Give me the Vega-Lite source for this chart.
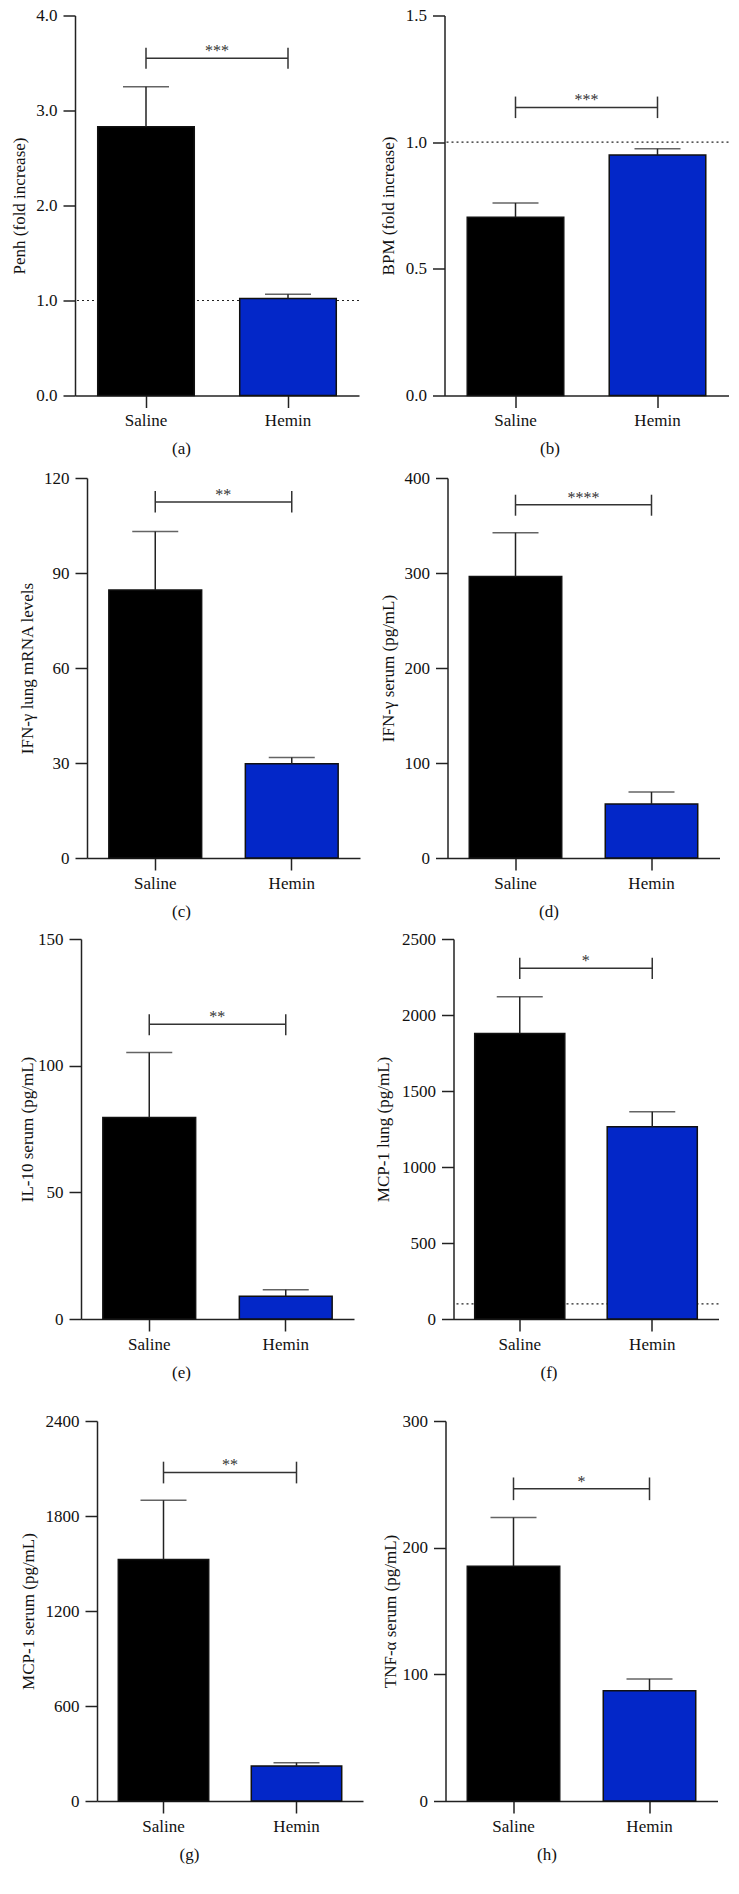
{
"$schema": "https://vega.github.io/schema/vega-lite/v6.json",
"background": "white",
"padding": {"left": 10, "top": 6.5, "right": 5, "bottom": 5},
"config": {
 "view": {"stroke": null},
 "font": "Liberation Serif",
 "axis": {"grid": false, "domainColor": "#222", "tickColor": "#222", "domainWidth": 1.5, "tickWidth": 1.5, "tickSize": 12, "labelFont": "Liberation Serif", "labelFontSize": 17, "labelColor": "#111", "titleFont": "Liberation Serif", "titleFontSize": 17, "titleFontWeight": "normal", "titleColor": "#111", "labelPadding": 6},
 "axisX": {"labelAngle": 0, "labelPadding": 5, "titlePadding": 12},
 "axisY": {"titlePadding": 4}
},
"spacing": 31.5,
"vconcat": [
 {"spacing": 10.5, "vconcat": [
  {"spacing": 12.5, "vconcat": [
   {"spacing": 18.5, "hconcat": [
    {"width": 284, "height": 380, "layer": [
     {"data": {"values": [{}]}, "mark": {"type": "rule", "strokeDash": [2, 3], "color": "#222", "strokeWidth": 1.2}, "encoding": {"y": {"datum": 1, "type": "quantitative", "scale": {"domain": [0, 4], "nice": false}}}},
     {"data": {"values": [{"group": "Saline", "mean": 2.83, "err": 3.25}, {"group": "Hemin", "mean": 1.02, "err": 1.066}]}, "layer": [
      {"mark": {"type": "bar", "stroke": "#111", "strokeWidth": 1.5}, "encoding": {
       "x": {"field": "group", "type": "nominal", "sort": ["Saline", "Hemin"], "scale": {"paddingInner": 0.32, "paddingOuter": 0.16}, "axis": {"title": "(a)", "titleX": 106}},
       "y": {"field": "mean", "type": "quantitative", "scale": {"domain": [0, 4], "nice": false}, "axis": {"title": "Penh (fold increase)", "values": [0, 1, 2, 3, 4], "format": ".1f", "minExtent": 43, "maxExtent": 43}},
       "color": {"field": "group", "type": "nominal", "scale": {"domain": ["Saline", "Hemin"], "range": ["#000000", "#0327c8"]}, "legend": null}}},
      {"mark": {"type": "rule", "color": "#222", "strokeWidth": 1.5}, "encoding": {"x": {"field": "group", "type": "nominal", "sort": ["Saline", "Hemin"]}, "y": {"field": "mean", "type": "quantitative", "scale": {"domain": [0, 4], "nice": false}}, "y2": {"field": "err"}}},
      {"mark": {"type": "tick", "size": 46, "thickness": 1.5, "color": "#222"}, "encoding": {"x": {"field": "group", "type": "nominal", "sort": ["Saline", "Hemin"]}, "y": {"field": "err", "type": "quantitative", "scale": {"domain": [0, 4], "nice": false}}}}
     ]},
     {"data": {"values": [{"group": "Saline", "y": 3.55, "lo": 3.44, "hi": 3.66, "stars": "***"}, {"group": "Hemin", "y": 3.55, "lo": 3.44, "hi": 3.66, "stars": "***"}]}, "layer": [
      {"mark": {"type": "line", "color": "#333", "strokeWidth": 1.5}, "encoding": {"x": {"field": "group", "type": "nominal", "sort": ["Saline", "Hemin"]}, "y": {"field": "y", "type": "quantitative", "scale": {"domain": [0, 4], "nice": false}}}},
      {"mark": {"type": "rule", "color": "#333", "strokeWidth": 1.5}, "encoding": {"x": {"field": "group", "type": "nominal", "sort": ["Saline", "Hemin"]}, "y": {"field": "lo", "type": "quantitative", "scale": {"domain": [0, 4], "nice": false}}, "y2": {"field": "hi"}}},
      {"transform": [{"filter": "datum.group === 'Saline'"}], "mark": {"type": "text", "dx": 71, "dy": -2, "baseline": "alphabetic", "fontSize": 16, "color": "#333"}, "encoding": {"x": {"field": "group", "type": "nominal", "sort": ["Saline", "Hemin"]}, "y": {"field": "y", "type": "quantitative", "scale": {"domain": [0, 4], "nice": false}}, "text": {"field": "stars"}}}
     ]}
    ]},
    {"width": 284, "height": 380, "layer": [
     {"data": {"values": [{}]}, "mark": {"type": "rule", "strokeDash": [2, 3], "color": "#222", "strokeWidth": 1.2}, "encoding": {"y": {"datum": 1, "type": "quantitative", "scale": {"domain": [0, 1.5], "nice": false}}}},
     {"data": {"values": [{"group": "Saline", "mean": 0.704, "err": 0.76}, {"group": "Hemin", "mean": 0.949, "err": 0.974}]}, "layer": [
      {"mark": {"type": "bar", "stroke": "#111", "strokeWidth": 1.5}, "encoding": {
       "x": {"field": "group", "type": "nominal", "sort": ["Saline", "Hemin"], "scale": {"paddingInner": 0.32, "paddingOuter": 0.16}, "axis": {"title": "(b)", "titleX": 105}},
       "y": {"field": "mean", "type": "quantitative", "scale": {"domain": [0, 1.5], "nice": false}, "axis": {"title": "BPM (fold increase)", "values": [0, 0.5, 1, 1.5], "format": ".1f", "minExtent": 43.5, "maxExtent": 43.5}},
       "color": {"field": "group", "type": "nominal", "scale": {"domain": ["Saline", "Hemin"], "range": ["#000000", "#0327c8"]}, "legend": null}}},
      {"mark": {"type": "rule", "color": "#222", "strokeWidth": 1.5}, "encoding": {"x": {"field": "group", "type": "nominal", "sort": ["Saline", "Hemin"]}, "y": {"field": "mean", "type": "quantitative", "scale": {"domain": [0, 1.5], "nice": false}}, "y2": {"field": "err"}}},
      {"mark": {"type": "tick", "size": 46, "thickness": 1.5, "color": "#222"}, "encoding": {"x": {"field": "group", "type": "nominal", "sort": ["Saline", "Hemin"]}, "y": {"field": "err", "type": "quantitative", "scale": {"domain": [0, 1.5], "nice": false}}}}
     ]},
     {"data": {"values": [{"group": "Saline", "y": 1.137, "lo": 1.095, "hi": 1.18, "stars": "***"}, {"group": "Hemin", "y": 1.137, "lo": 1.095, "hi": 1.18, "stars": "***"}]}, "layer": [
      {"mark": {"type": "line", "color": "#333", "strokeWidth": 1.5}, "encoding": {"x": {"field": "group", "type": "nominal", "sort": ["Saline", "Hemin"]}, "y": {"field": "y", "type": "quantitative", "scale": {"domain": [0, 1.5], "nice": false}}}},
      {"mark": {"type": "rule", "color": "#333", "strokeWidth": 1.5}, "encoding": {"x": {"field": "group", "type": "nominal", "sort": ["Saline", "Hemin"]}, "y": {"field": "lo", "type": "quantitative", "scale": {"domain": [0, 1.5], "nice": false}}, "y2": {"field": "hi"}}},
      {"transform": [{"filter": "datum.group === 'Saline'"}], "mark": {"type": "text", "dx": 71, "dy": -2, "baseline": "alphabetic", "fontSize": 16, "color": "#333"}, "encoding": {"x": {"field": "group", "type": "nominal", "sort": ["Saline", "Hemin"]}, "y": {"field": "y", "type": "quantitative", "scale": {"domain": [0, 1.5], "nice": false}}, "text": {"field": "stars"}}}
     ]}
    ]}
   ]},
   {"spacing": 18.5, "hconcat": [
    {"width": 285, "height": 380, "layer": [
     {"data": {"values": [{"group": "Saline", "mean": 84.6, "err": 103.1}, {"group": "Hemin", "mean": 29.8, "err": 31.7}]}, "layer": [
      {"mark": {"type": "bar", "stroke": "#111", "strokeWidth": 1.5}, "encoding": {
       "x": {"field": "group", "type": "nominal", "sort": ["Saline", "Hemin"], "scale": {"range": [12, 285], "paddingInner": 0.32, "paddingOuter": 0.16}, "axis": {"title": "(c)", "titleX": 106}},
       "y": {"field": "mean", "type": "quantitative", "scale": {"domain": [0, 120], "nice": false}, "axis": {"title": "IFN-γ lung mRNA levels", "values": [0, 30, 60, 90, 120], "offset": -12, "minExtent": 46.5, "maxExtent": 46.5}},
       "color": {"field": "group", "type": "nominal", "scale": {"domain": ["Saline", "Hemin"], "range": ["#000000", "#0327c8"]}, "legend": null}}},
      {"mark": {"type": "rule", "color": "#222", "strokeWidth": 1.5}, "encoding": {"x": {"field": "group", "type": "nominal", "sort": ["Saline", "Hemin"]}, "y": {"field": "mean", "type": "quantitative", "scale": {"domain": [0, 120], "nice": false}}, "y2": {"field": "err"}}},
      {"mark": {"type": "tick", "size": 46, "thickness": 1.5, "color": "#222"}, "encoding": {"x": {"field": "group", "type": "nominal", "sort": ["Saline", "Hemin"]}, "y": {"field": "err", "type": "quantitative", "scale": {"domain": [0, 120], "nice": false}}}}
     ]},
     {"data": {"values": [{"group": "Saline", "y": 112.4, "lo": 109.1, "hi": 115.9, "stars": "**"}, {"group": "Hemin", "y": 112.4, "lo": 109.1, "hi": 115.9, "stars": "**"}]}, "layer": [
      {"mark": {"type": "line", "color": "#333", "strokeWidth": 1.5}, "encoding": {"x": {"field": "group", "type": "nominal", "sort": ["Saline", "Hemin"]}, "y": {"field": "y", "type": "quantitative", "scale": {"domain": [0, 120], "nice": false}}}},
      {"mark": {"type": "rule", "color": "#333", "strokeWidth": 1.5}, "encoding": {"x": {"field": "group", "type": "nominal", "sort": ["Saline", "Hemin"]}, "y": {"field": "lo", "type": "quantitative", "scale": {"domain": [0, 120], "nice": false}}, "y2": {"field": "hi"}}},
      {"transform": [{"filter": "datum.group === 'Saline'"}], "mark": {"type": "text", "dx": 68, "dy": -2, "baseline": "alphabetic", "fontSize": 16, "color": "#333"}, "encoding": {"x": {"field": "group", "type": "nominal", "sort": ["Saline", "Hemin"]}, "y": {"field": "y", "type": "quantitative", "scale": {"domain": [0, 120], "nice": false}}, "text": {"field": "stars"}}}
     ]}
    ]},
    {"width": 272, "height": 380, "layer": [
     {"data": {"values": [{"group": "Saline", "mean": 296.4, "err": 342.4}, {"group": "Hemin", "mean": 56.8, "err": 69.5}]}, "layer": [
      {"mark": {"type": "bar", "stroke": "#111", "strokeWidth": 1.5}, "encoding": {
       "x": {"field": "group", "type": "nominal", "sort": ["Saline", "Hemin"], "scale": {"paddingInner": 0.32, "paddingOuter": 0.16}, "axis": {"title": "(d)", "titleX": 101}},
       "y": {"field": "mean", "type": "quantitative", "scale": {"domain": [0, 400], "nice": false}, "axis": {"title": "IFN-γ serum (pg/mL)", "values": [0, 100, 200, 300, 400], "minExtent": 46.5, "maxExtent": 46.5}},
       "color": {"field": "group", "type": "nominal", "scale": {"domain": ["Saline", "Hemin"], "range": ["#000000", "#0327c8"]}, "legend": null}}},
      {"mark": {"type": "rule", "color": "#222", "strokeWidth": 1.5}, "encoding": {"x": {"field": "group", "type": "nominal", "sort": ["Saline", "Hemin"]}, "y": {"field": "mean", "type": "quantitative", "scale": {"domain": [0, 400], "nice": false}}, "y2": {"field": "err"}}},
      {"mark": {"type": "tick", "size": 46, "thickness": 1.5, "color": "#222"}, "encoding": {"x": {"field": "group", "type": "nominal", "sort": ["Saline", "Hemin"]}, "y": {"field": "err", "type": "quantitative", "scale": {"domain": [0, 400], "nice": false}}}}
     ]},
     {"data": {"values": [{"group": "Saline", "y": 371.9, "lo": 360.3, "hi": 382.4, "stars": "****"}, {"group": "Hemin", "y": 371.9, "lo": 360.3, "hi": 382.4, "stars": "****"}]}, "layer": [
      {"mark": {"type": "line", "color": "#333", "strokeWidth": 1.5}, "encoding": {"x": {"field": "group", "type": "nominal", "sort": ["Saline", "Hemin"]}, "y": {"field": "y", "type": "quantitative", "scale": {"domain": [0, 400], "nice": false}}}},
      {"mark": {"type": "rule", "color": "#333", "strokeWidth": 1.5}, "encoding": {"x": {"field": "group", "type": "nominal", "sort": ["Saline", "Hemin"]}, "y": {"field": "lo", "type": "quantitative", "scale": {"domain": [0, 400], "nice": false}}, "y2": {"field": "hi"}}},
      {"transform": [{"filter": "datum.group === 'Saline'"}], "mark": {"type": "text", "dx": 68, "dy": -2, "baseline": "alphabetic", "fontSize": 16, "color": "#333"}, "encoding": {"x": {"field": "group", "type": "nominal", "sort": ["Saline", "Hemin"]}, "y": {"field": "y", "type": "quantitative", "scale": {"domain": [0, 400], "nice": false}}, "text": {"field": "stars"}}}
     ]}
    ]}
   ]}
  ]},
  {"spacing": 19.5, "hconcat": [
   {"width": 279, "height": 380, "layer": [
    {"data": {"values": [{"group": "Saline", "mean": 79.5, "err": 105.2}, {"group": "Hemin", "mean": 9.0, "err": 11.5}]}, "layer": [
     {"mark": {"type": "bar", "stroke": "#111", "strokeWidth": 1.5}, "encoding": {
      "x": {"field": "group", "type": "nominal", "sort": ["Saline", "Hemin"], "scale": {"range": [6, 279], "paddingInner": 0.32, "paddingOuter": 0.16}, "axis": {"title": "(e)", "titleX": 106}},
      "y": {"field": "mean", "type": "quantitative", "scale": {"domain": [0, 150], "nice": false}, "axis": {"title": "IL-10 serum (pg/mL)", "values": [0, 50, 100, 150], "offset": -6, "minExtent": 40.5, "maxExtent": 40.5}},
      "color": {"field": "group", "type": "nominal", "scale": {"domain": ["Saline", "Hemin"], "range": ["#000000", "#0327c8"]}, "legend": null}}},
     {"mark": {"type": "rule", "color": "#222", "strokeWidth": 1.5}, "encoding": {"x": {"field": "group", "type": "nominal", "sort": ["Saline", "Hemin"]}, "y": {"field": "mean", "type": "quantitative", "scale": {"domain": [0, 150], "nice": false}}, "y2": {"field": "err"}}},
     {"mark": {"type": "tick", "size": 46, "thickness": 1.5, "color": "#222"}, "encoding": {"x": {"field": "group", "type": "nominal", "sort": ["Saline", "Hemin"]}, "y": {"field": "err", "type": "quantitative", "scale": {"domain": [0, 150], "nice": false}}}}
    ]},
    {"data": {"values": [{"group": "Saline", "y": 116.3, "lo": 112.0, "hi": 120.3, "stars": "**"}, {"group": "Hemin", "y": 116.3, "lo": 112.0, "hi": 120.3, "stars": "**"}]}, "layer": [
     {"mark": {"type": "line", "color": "#333", "strokeWidth": 1.5}, "encoding": {"x": {"field": "group", "type": "nominal", "sort": ["Saline", "Hemin"]}, "y": {"field": "y", "type": "quantitative", "scale": {"domain": [0, 150], "nice": false}}}},
     {"mark": {"type": "rule", "color": "#333", "strokeWidth": 1.5}, "encoding": {"x": {"field": "group", "type": "nominal", "sort": ["Saline", "Hemin"]}, "y": {"field": "lo", "type": "quantitative", "scale": {"domain": [0, 150], "nice": false}}, "y2": {"field": "hi"}}},
     {"transform": [{"filter": "datum.group === 'Saline'"}], "mark": {"type": "text", "dx": 68, "dy": -2, "baseline": "alphabetic", "fontSize": 16, "color": "#333"}, "encoding": {"x": {"field": "group", "type": "nominal", "sort": ["Saline", "Hemin"]}, "y": {"field": "y", "type": "quantitative", "scale": {"domain": [0, 150], "nice": false}}, "text": {"field": "stars"}}}
    ]}
   ]},
   {"width": 265, "height": 380, "layer": [
    {"data": {"values": [{}]}, "mark": {"type": "rule", "strokeDash": [2, 3], "color": "#222", "strokeWidth": 1.2}, "encoding": {"y": {"datum": 100, "type": "quantitative", "scale": {"domain": [0, 2500], "nice": false}}}},
    {"data": {"values": [{"group": "Saline", "mean": 1879, "err": 2120}, {"group": "Hemin", "mean": 1265, "err": 1364}]}, "layer": [
     {"mark": {"type": "bar", "stroke": "#111", "strokeWidth": 1.5}, "encoding": {
      "x": {"field": "group", "type": "nominal", "sort": ["Saline", "Hemin"], "scale": {"paddingInner": 0.32, "paddingOuter": 0.16}, "axis": {"title": "(f)", "titleX": 95}},
      "y": {"field": "mean", "type": "quantitative", "scale": {"domain": [0, 2500], "nice": false}, "axis": {"title": "MCP-1 lung (pg/mL)", "values": [0, 500, 1000, 1500, 2000, 2500], "format": "d", "minExtent": 57.5, "maxExtent": 57.5}},
      "color": {"field": "group", "type": "nominal", "scale": {"domain": ["Saline", "Hemin"], "range": ["#000000", "#0327c8"]}, "legend": null}}},
     {"mark": {"type": "rule", "color": "#222", "strokeWidth": 1.5}, "encoding": {"x": {"field": "group", "type": "nominal", "sort": ["Saline", "Hemin"]}, "y": {"field": "mean", "type": "quantitative", "scale": {"domain": [0, 2500], "nice": false}}, "y2": {"field": "err"}}},
     {"mark": {"type": "tick", "size": 46, "thickness": 1.5, "color": "#222"}, "encoding": {"x": {"field": "group", "type": "nominal", "sort": ["Saline", "Hemin"]}, "y": {"field": "err", "type": "quantitative", "scale": {"domain": [0, 2500], "nice": false}}}}
    ]},
    {"data": {"values": [{"group": "Saline", "y": 2307, "lo": 2237, "hi": 2377, "stars": "*"}, {"group": "Hemin", "y": 2307, "lo": 2237, "hi": 2377, "stars": "*"}]}, "layer": [
     {"mark": {"type": "line", "color": "#333", "strokeWidth": 1.5}, "encoding": {"x": {"field": "group", "type": "nominal", "sort": ["Saline", "Hemin"]}, "y": {"field": "y", "type": "quantitative", "scale": {"domain": [0, 2500], "nice": false}}}},
     {"mark": {"type": "rule", "color": "#333", "strokeWidth": 1.5}, "encoding": {"x": {"field": "group", "type": "nominal", "sort": ["Saline", "Hemin"]}, "y": {"field": "lo", "type": "quantitative", "scale": {"domain": [0, 2500], "nice": false}}, "y2": {"field": "hi"}}},
     {"transform": [{"filter": "datum.group === 'Saline'"}], "mark": {"type": "text", "dx": 66, "dy": -2, "baseline": "alphabetic", "fontSize": 16, "color": "#333"}, "encoding": {"x": {"field": "group", "type": "nominal", "sort": ["Saline", "Hemin"]}, "y": {"field": "y", "type": "quantitative", "scale": {"domain": [0, 2500], "nice": false}}, "text": {"field": "stars"}}}
    ]}
   ]}
  ]}
 ]},
 {"spacing": 17.5, "hconcat": [
  {"width": 288, "height": 380, "layer": [
   {"data": {"values": [{"group": "Saline", "mean": 1526, "err": 1899}, {"group": "Hemin", "mean": 221, "err": 242}]}, "layer": [
    {"mark": {"type": "bar", "stroke": "#111", "strokeWidth": 1.5}, "encoding": {
     "x": {"field": "group", "type": "nominal", "sort": ["Saline", "Hemin"], "scale": {"range": [22, 288], "paddingInner": 0.32, "paddingOuter": 0.16}, "axis": {"title": "(g)", "titleX": 114}},
     "y": {"field": "mean", "type": "quantitative", "scale": {"domain": [0, 2400], "nice": false}, "axis": {"title": "MCP-1 serum (pg/mL)", "values": [0, 600, 1200, 1800, 2400], "format": "d", "offset": -22, "minExtent": 55.5, "maxExtent": 55.5}},
     "color": {"field": "group", "type": "nominal", "scale": {"domain": ["Saline", "Hemin"], "range": ["#000000", "#0327c8"]}, "legend": null}}},
    {"mark": {"type": "rule", "color": "#222", "strokeWidth": 1.5}, "encoding": {"x": {"field": "group", "type": "nominal", "sort": ["Saline", "Hemin"]}, "y": {"field": "mean", "type": "quantitative", "scale": {"domain": [0, 2400], "nice": false}}, "y2": {"field": "err"}}},
    {"mark": {"type": "tick", "size": 46, "thickness": 1.5, "color": "#222"}, "encoding": {"x": {"field": "group", "type": "nominal", "sort": ["Saline", "Hemin"]}, "y": {"field": "err", "type": "quantitative", "scale": {"domain": [0, 2400], "nice": false}}}}
   ]},
   {"data": {"values": [{"group": "Saline", "y": 2075, "lo": 2006, "hi": 2143, "stars": "**"}, {"group": "Hemin", "y": 2075, "lo": 2006, "hi": 2143, "stars": "**"}]}, "layer": [
    {"mark": {"type": "line", "color": "#333", "strokeWidth": 1.5}, "encoding": {"x": {"field": "group", "type": "nominal", "sort": ["Saline", "Hemin"]}, "y": {"field": "y", "type": "quantitative", "scale": {"domain": [0, 2400], "nice": false}}}},
    {"mark": {"type": "rule", "color": "#333", "strokeWidth": 1.5}, "encoding": {"x": {"field": "group", "type": "nominal", "sort": ["Saline", "Hemin"]}, "y": {"field": "lo", "type": "quantitative", "scale": {"domain": [0, 2400], "nice": false}}, "y2": {"field": "hi"}}},
    {"transform": [{"filter": "datum.group === 'Saline'"}], "mark": {"type": "text", "dx": 66.5, "dy": -2, "baseline": "alphabetic", "fontSize": 16, "color": "#333"}, "encoding": {"x": {"field": "group", "type": "nominal", "sort": ["Saline", "Hemin"]}, "y": {"field": "y", "type": "quantitative", "scale": {"domain": [0, 2400], "nice": false}}, "text": {"field": "stars"}}}
   ]}
  ]},
  {"width": 272, "height": 380, "layer": [
   {"data": {"values": [{"group": "Saline", "mean": 185.4, "err": 223.8}, {"group": "Hemin", "mean": 87.1, "err": 96.4}]}, "layer": [
    {"mark": {"type": "bar", "stroke": "#111", "strokeWidth": 1.5}, "encoding": {
     "x": {"field": "group", "type": "nominal", "sort": ["Saline", "Hemin"], "scale": {"paddingInner": 0.32, "paddingOuter": 0.16}, "axis": {"title": "(h)", "titleX": 101}},
     "y": {"field": "mean", "type": "quantitative", "scale": {"domain": [0, 300], "nice": false}, "axis": {"title": "TNF-α serum (pg/mL)", "values": [0, 100, 200, 300], "minExtent": 42.5, "maxExtent": 42.5}},
     "color": {"field": "group", "type": "nominal", "scale": {"domain": ["Saline", "Hemin"], "range": ["#000000", "#0327c8"]}, "legend": null}}},
    {"mark": {"type": "rule", "color": "#222", "strokeWidth": 1.5}, "encoding": {"x": {"field": "group", "type": "nominal", "sort": ["Saline", "Hemin"]}, "y": {"field": "mean", "type": "quantitative", "scale": {"domain": [0, 300], "nice": false}}, "y2": {"field": "err"}}},
    {"mark": {"type": "tick", "size": 46, "thickness": 1.5, "color": "#222"}, "encoding": {"x": {"field": "group", "type": "nominal", "sort": ["Saline", "Hemin"]}, "y": {"field": "err", "type": "quantitative", "scale": {"domain": [0, 300], "nice": false}}}}
   ]},
   {"data": {"values": [{"group": "Saline", "y": 246.5, "lo": 237.5, "hi": 255.4, "stars": "*"}, {"group": "Hemin", "y": 246.5, "lo": 237.5, "hi": 255.4, "stars": "*"}]}, "layer": [
    {"mark": {"type": "line", "color": "#333", "strokeWidth": 1.5}, "encoding": {"x": {"field": "group", "type": "nominal", "sort": ["Saline", "Hemin"]}, "y": {"field": "y", "type": "quantitative", "scale": {"domain": [0, 300], "nice": false}}}},
    {"mark": {"type": "rule", "color": "#333", "strokeWidth": 1.5}, "encoding": {"x": {"field": "group", "type": "nominal", "sort": ["Saline", "Hemin"]}, "y": {"field": "lo", "type": "quantitative", "scale": {"domain": [0, 300], "nice": false}}, "y2": {"field": "hi"}}},
    {"transform": [{"filter": "datum.group === 'Saline'"}], "mark": {"type": "text", "dx": 68, "dy": -2, "baseline": "alphabetic", "fontSize": 16, "color": "#333"}, "encoding": {"x": {"field": "group", "type": "nominal", "sort": ["Saline", "Hemin"]}, "y": {"field": "y", "type": "quantitative", "scale": {"domain": [0, 300], "nice": false}}, "text": {"field": "stars"}}}
   ]}
  ]}
 ]}
]
}
